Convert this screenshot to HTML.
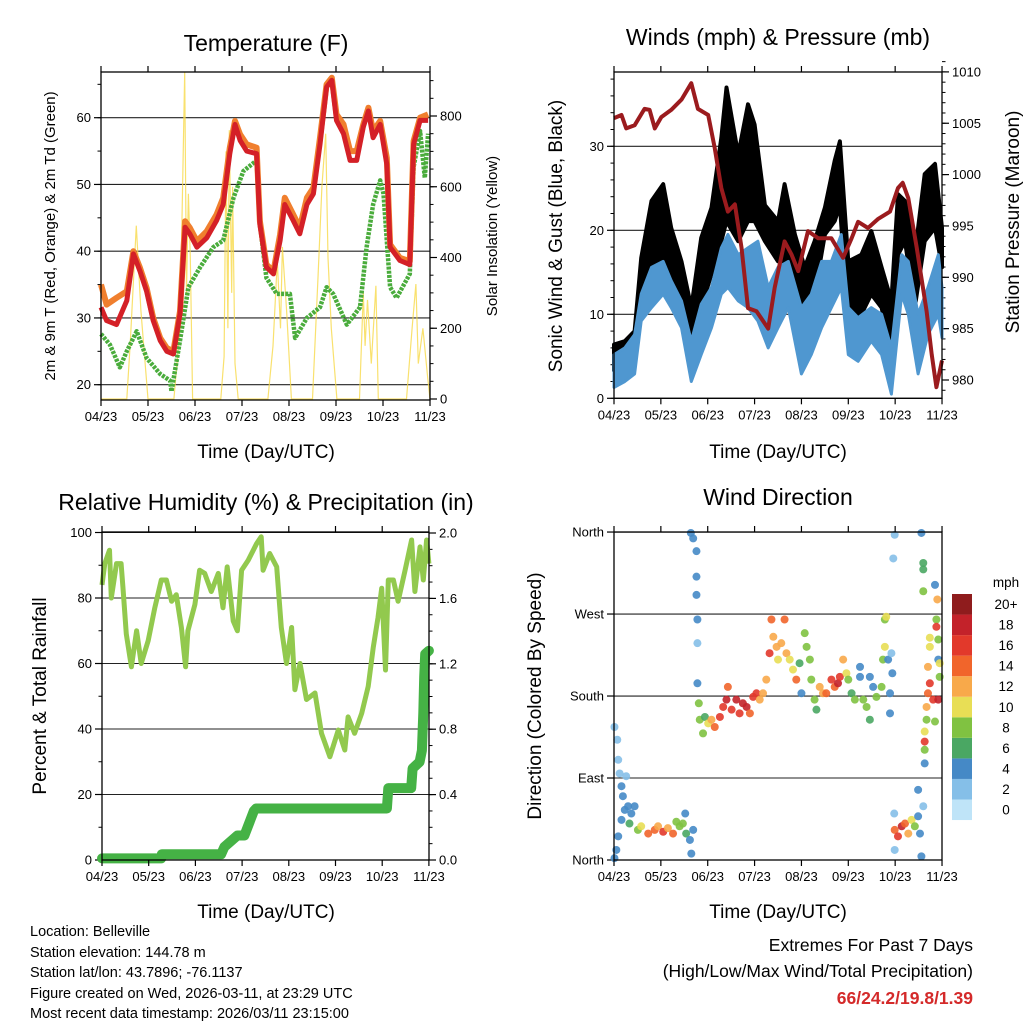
<!DOCTYPE html>
<html><head><meta charset="utf-8"><title>Station Meteogram</title>
<style>
html,body{margin:0;padding:0;background:#fff;}
svg{display:block;font-family:"Liberation Sans",Arial,sans-serif;}
</style></head>
<body>
<svg id="chart" width="1024" height="1024" viewBox="0 0 1024 1024" xmlns="http://www.w3.org/2000/svg">
<rect x="0" y="0" width="1024" height="1024" fill="#fff"/>
<text x="266" y="51" font-size="23" text-anchor="middle">Temperature (F)</text>
<text x="778" y="45" font-size="23" text-anchor="middle">Winds (mph) &amp; Pressure (mb)</text>
<text x="266" y="510" font-size="23" text-anchor="middle">Relative Humidity (%) &amp; Precipitation (in)</text>
<text x="778" y="505" font-size="23" text-anchor="middle">Wind Direction</text>
<text x="266" y="458" font-size="19" text-anchor="middle">Time (Day/UTC)</text>
<text x="778" y="458" font-size="19" text-anchor="middle">Time (Day/UTC)</text>
<text x="266" y="918" font-size="19" text-anchor="middle">Time (Day/UTC)</text>
<text x="778" y="918" font-size="19" text-anchor="middle">Time (Day/UTC)</text>
<text transform="translate(55,236) rotate(-90)" font-size="15" text-anchor="middle">2m &amp; 9m T (Red, Orange) &amp; 2m Td (Green)</text>
<text transform="translate(497,236) rotate(-90)" font-size="15" text-anchor="middle">Solar Insolation (Yellow)</text>
<text transform="translate(562,236) rotate(-90)" font-size="19" text-anchor="middle">Sonic Wind &amp; Gust (Blue, Black)</text>
<text transform="translate(1019,222) rotate(-90)" font-size="19" text-anchor="middle">Station Pressure (Maroon)</text>
<text transform="translate(46,696) rotate(-90)" font-size="19" text-anchor="middle">Percent &amp; Total Rainfall</text>
<text transform="translate(541,696) rotate(-90)" font-size="19" text-anchor="middle">Direction (Colored By Speed)</text>
<g font-size="14.5">
<text x="30" y="936">Location: Belleville</text>
<text x="30" y="957">Station elevation: 144.78 m</text>
<text x="30" y="977">Station lat/lon: 43.7896; -76.1137</text>
<text x="30" y="998">Figure created on Wed, 2026-03-11, at 23:29 UTC</text>
<text x="30" y="1018">Most recent data timestamp: 2026/03/11 23:15:00</text>
</g>
<g font-size="17.5" text-anchor="end">
<text x="973" y="951">Extremes For Past 7 Days</text>
<text x="973" y="977">(High/Low/Max Wind/Total Precipitation)</text>
<text x="973" y="1004" fill="#d42a2a" font-weight="bold">66/24.2/19.8/1.39</text>
</g>
</svg>
<script>
// ---------- data ----------
const dayLabels=['04/23','05/23','06/23','07/23','08/23','09/23','10/23','11/23'];
// Temperature panel
const tempTimes=[0,0.12,0.33,0.55,0.69,0.83,0.97,1.11,1.26,1.40,1.54,1.68,1.79,1.89,2.04,2.25,2.46,2.60,2.74,2.85,2.96,3.10,3.31,3.38,3.52,3.67,3.81,3.91,4.09,4.23,4.38,4.52,4.66,4.80,4.91,5.01,5.16,5.30,5.44,5.58,5.69,5.79,5.94,6.08,6.15,6.36,6.57,6.65,6.79,6.96];
const temp2m=[31.6,29.6,29,32.6,39.6,37,34,29.6,26.6,25,24.6,30.6,43.6,42.6,40.6,42,44.6,47,54.6,59,56.6,55,54.6,44,37.6,36.6,41.6,47,44.6,42.6,47,48.6,56,64.6,65.6,59.6,57.6,53.6,53.6,58.6,61,57,59,53,40.6,38.6,38,56,59.6,59.6];
const temp9m=[35,32,33,34,40,37.5,34.5,30,27,25.5,25,31,44.5,43.5,41.5,43,45.5,48,55.5,59.5,57.5,56,55.5,44.5,38,37,42.5,48,45.5,43.5,48,49.5,57,65,66,60.5,59,55,55,59,61.5,58,59.5,54,41,39,38.5,56.5,60,60.5];
const dewTimes=[0,0.19,0.40,0.55,0.76,0.97,1.26,1.47,1.50,1.68,1.86,2.11,2.39,2.60,2.82,3.03,3.31,3.38,3.52,3.74,4.02,4.13,4.38,4.66,4.80,4.94,5.23,5.51,5.65,5.79,5.94,6.01,6.15,6.29,6.57,6.65,6.79,6.89,6.96];
const dewPoint=[27.6,26,22.6,25,28,24,21.6,20.6,19,26.6,34.6,37.6,40.6,41.6,48,52,53.6,44,36,33.6,33.6,27,30,31.6,34.6,33.6,29,31.6,40.6,47,50.6,48.6,34.6,33,36.6,52.6,58,51,57.6];
const solarTimes=[0,0.55,0.62,0.75,0.85,1.0,1.55,1.68,1.78,1.82,1.86,1.90,1.95,2.55,2.62,2.66,2.70,2.73,2.78,2.80,2.85,2.92,3.55,3.66,3.75,3.82,3.86,3.95,4.05,4.5,4.62,4.7,4.78,4.83,4.9,5.02,5.5,5.58,5.62,5.67,5.75,5.85,5.9,6.5,6.62,6.7,6.75,6.85,6.95,7.0];
const solarVals=[0,0,150,490,250,0,0,200,925,300,580,400,0,0,120,700,200,760,300,600,100,0,0,150,390,200,430,250,0,0,350,600,750,400,200,0,0,300,150,280,100,320,0,0,200,325,100,200,60,0];
// Wind panel
const presTimes=[0,0.16,0.26,0.44,0.65,0.76,0.87,1.01,1.22,1.44,1.65,1.79,2.01,2.15,2.29,2.43,2.58,2.72,2.86,3.04,3.29,3.43,3.64,3.79,3.93,4.14,4.36,4.64,4.89,5.07,5.21,5.42,5.64,5.89,6.06,6.16,6.28,6.46,6.67,6.78,6.88,7.0];
const presVals=[1005.5,1005.8,1004.5,1004.8,1006.4,1006.3,1004.5,1005.6,1006.3,1007.3,1008.9,1006.4,1005.8,1002.6,998.7,996.4,997.1,992.9,987.0,986.7,985.0,989.0,993.5,992.2,990.6,994.5,993.8,993.8,991.9,993.8,995.4,994.8,995.7,996.4,998.7,999.2,997.7,992.9,986.7,982.5,979.3,981.9];
const windTimes=[0,0.23,0.44,0.58,0.80,1.05,1.22,1.44,1.65,1.86,2.08,2.29,2.43,2.65,2.86,3.07,3.29,3.50,3.72,4.0,4.21,4.43,4.64,4.85,5.0,5.21,5.49,5.71,5.92,6.14,6.28,6.49,6.70,6.92,7.0];
const windLow=[1.3,2,2.9,9.2,10.8,12.4,10.8,8.4,2,5.2,8.4,12.4,13.2,11.6,10.8,9.2,6,8.4,10.8,2.9,5.2,8.4,10.8,13.2,5.2,4.4,6.8,5.2,0.5,12.4,10,2.9,7.6,10,7.2];
const windHigh=[5.2,6,7.6,12.4,15.6,16.3,14,11.6,6.8,11.2,13.2,17.9,19.5,17.1,17.9,18.7,13.2,15.6,16.3,10.8,12.4,16.3,16.3,19.5,10.8,9.6,10.8,10,6,17.1,16.3,10,13.2,17.1,13.2];
const gustTimes=[0,0.23,0.44,0.58,0.80,1.05,1.22,1.44,1.65,1.86,2.08,2.29,2.40,2.65,2.86,3.0,3.22,3.50,3.64,3.86,4.07,4.28,4.50,4.71,4.82,5.0,5.28,5.49,5.71,5.92,6.06,6.21,6.42,6.63,6.85,7.0];
const gustLow=[3.3,4.4,6,11.6,15.6,15.6,14,11.6,5.2,10.8,14.8,18.7,21.1,18.7,21.1,21.1,18.7,16.3,16.3,14.8,9.2,12.4,19.5,21.1,23,8.4,10,12.4,10.8,5.2,17.1,18.7,10.8,18.7,20.3,15.6];
const gustHigh=[6.4,6.8,8,16.7,23.5,25.5,20.3,16.3,10.8,19.1,22.7,31,37,29,35,32.6,23,21.1,25.5,19.5,15.6,18.7,22.7,28.3,30.6,16.3,17.1,19.9,15.6,11.6,24.3,23.5,17.1,26.7,27.9,20.3];
// RH panel
const rhTimes=[0,0.06,0.16,0.2,0.31,0.41,0.45,0.52,0.63,0.74,0.84,0.99,1.13,1.27,1.38,1.49,1.59,1.7,1.79,1.84,1.99,2.09,2.2,2.34,2.49,2.59,2.68,2.81,2.9,2.99,3.13,3.31,3.41,3.45,3.59,3.74,3.84,3.95,4.06,4.13,4.24,4.38,4.56,4.7,4.88,5.06,5.2,5.27,5.41,5.56,5.7,5.81,5.91,5.99,6.07,6.13,6.24,6.34,6.49,6.63,6.7,6.81,6.88,6.95,7.0];
const rhVals=[84,90.5,94.6,80,90.5,90.5,83,69,59,70,60,67,77,85.5,85.5,79,81,71,59,70,78,88.5,87.5,82,87.5,77,89.5,73,70,88.5,91.5,96.6,98.7,88.5,93.6,89.5,71,60,71,52,60,49,51,38.7,31.5,39.7,33.6,43.7,38.7,44.8,53,65,74,83,58,85.5,85.5,79,88.5,97.7,82,95.6,85.5,97.7,90.5];
const precipTimes=[0,1.27,1.28,2.55,2.62,2.9,3.05,3.25,3.3,6.1,6.13,6.62,6.65,6.8,6.85,6.88,6.9,6.92,7.0];
const precipVals=[0.01,0.01,0.035,0.035,0.08,0.15,0.15,0.3,0.315,0.315,0.44,0.44,0.56,0.6,0.67,0.9,1.12,1.26,1.28];
// Wind direction panel
const dirTimes=[0.01,0.01,0.07,0.09,0.12,0.16,0.19,0.23,0.30,0.37,0.44,0.16,0.09,0.05,0.26,0.33,0.51,0.58,0.73,0.87,0.94,1.05,1.15,1.26,1.33,1.40,1.47,1.54,1.62,1.65,1.69,1.52,1.64,1.69,1.76,1.76,1.76,1.78,1.78,1.78,1.81,1.83,1.90,1.94,2.01,2.08,2.15,2.26,2.33,2.40,2.43,2.51,2.61,2.68,2.75,2.83,2.90,2.97,3.04,3.11,3.18,3.25,3.32,3.36,3.40,3.47,3.50,3.57,3.64,3.68,3.75,3.82,3.89,3.96,4.00,4.07,4.11,4.18,4.21,4.28,4.32,4.39,4.46,4.53,4.64,4.71,4.78,4.82,4.89,4.96,5.00,5.07,5.14,5.25,5.25,5.32,5.39,5.46,5.46,5.53,5.60,5.71,5.74,5.78,5.78,5.81,5.85,5.89,5.89,5.92,5.94,5.96,5.99,5.99,6.06,6.14,6.21,6.28,6.35,6.42,6.49,6.53,6.56,6.49,6.60,5.98,5.99,6.56,6.60,6.60,6.60,6.63,6.63,6.63,6.63,6.67,6.67,6.70,6.74,6.70,6.74,6.74,6.81,6.85,6.88,6.88,6.90,6.92,6.92,6.92,6.95,6.95,6.85];
const dirDeg=[2,146,132,110,95,81,70,55,59,51,59,44,26,11,92,40,33,37,29,33,37,31,35,29,42,37,40,29,22,7,33,51,359,353,339,311,291,264,238,194,172,154,139,157,150,154,146,157,168,176,190,165,176,161,172,168,161,179,183,176,183,198,227,264,245,234,220,238,264,227,220,209,198,216,183,249,234,220,198,176,165,190,183,183,198,190,194,201,220,205,198,183,176,212,201,176,168,201,154,190,179,190,220,234,264,267,220,183,161,227,205,331,357,33,26,37,40,29,44,37,48,29,4,77,59,51,11,359,326,319,295,106,121,130,141,154,168,183,194,212,234,244,176,302,264,256,286,242,220,176,201,216,152];
const dirSpeed=[3,2,2,2,2,4,4,4,4,4,4,4,3,4,2,6,8,10,14,14,12,16,12,14,7,8,7,6,4,4,4,4,3,3,3,3,3,4,2,3,7,7,8,6,10,12,14,16,16,18,14,16,18,16,18,18,14,16,16,12,12,12,16,14,12,12,10,12,14,12,10,10,14,6,4,8,8,7,7,7,6,12,12,14,16,14,18,16,12,10,8,6,7,4,4,8,7,4,6,4,7,8,7,10,8,10,3,4,4,2,4,1,2,14,16,18,14,12,10,7,4,4,3,3,2,1,2,3,6,6,7,4,8,16,10,7,12,14,16,12,10,10,16,4,7,16,12,8,4,18,8,10,7];
const speedLabels=['0','2','4','6','8','10','12','14','16','18','20+'];
const speedColors=['#bfe4f8','#85bfe8','#4589c6','#4aa763','#80c241','#e8de55','#f8a94a','#f1652b','#e2392b','#c3222a','#8f1c1d'];

// ---------- helpers ----------
const NS='http://www.w3.org/2000/svg';
const svg=document.getElementById('chart');
function mk(tag,attrs,parent){const e=document.createElementNS(NS,tag);for(const k in attrs)e.setAttribute(k,attrs[k]);(parent||svg).appendChild(e);return e;}
function linePath(ts,vs,xs,ys){return ts.map((t,i)=>(i?'L':'M')+xs(t).toFixed(1)+','+ys(vs[i]).toFixed(1)).join('');}
function bandPath(ts,lo,hi,xs,ys){let d=ts.map((t,i)=>(i?'L':'M')+xs(t).toFixed(1)+','+ys(hi[i]).toFixed(1)).join('');for(let i=ts.length-1;i>=0;i--)d+='L'+xs(ts[i]).toFixed(1)+','+ys(lo[i]).toFixed(1);return d+'Z';}
function xAxis(g,xs,yTop,yBot){
  for(let i=0;i<dayLabels.length;i++){
    const x=xs(i);
    const tb=mk('line',{x1:x,x2:x,y1:yBot,y2:yBot+6,stroke:'#000','stroke-width':1.2},g);
    
    
    const tt=mk('line',{x1:x,x2:x,y1:yTop,y2:yTop-6,stroke:'#000','stroke-width':1.2},g);
    
    
    const lb=mk('text',{x:x,y:yBot+21,'font-size':13,'text-anchor':'middle'},g);
    
    
    lb.textContent=dayLabels[i];
  }
}
function yAxis(g,side,xEdge,ys,majors,labels,minors,grid,x0,x1){
  const s=side==='left'?-1:1;
  minors.forEach(v=>{
    const t=mk('line',{x1:xEdge,x2:xEdge+s*3.5,y1:ys(v),y2:ys(v),stroke:'#000','stroke-width':1},g);
    
    
  });
  majors.forEach((v,i)=>{
    const y=ys(v);
    if(grid){
      const gl=mk('line',{x1:x0,x2:x1,y1:y,y2:y,stroke:'#222','stroke-width':1.1},g);
      
      
    }
    const t=mk('line',{x1:xEdge,x2:xEdge+s*7,y1:y,y2:y,stroke:'#000','stroke-width':1.2},g);
    
    
    const lb=mk('text',{x:xEdge+s*10,y:y+4.5,'font-size':13,'text-anchor':side==='left'?'end':'start'},g);
    
    
    lb.textContent=labels[i];
  });
}
function frame(g,x0,x1,y0,y1){
  const r=mk('rect',{x:x0,y:y0,width:x1-x0,height:y1-y0,fill:'none',stroke:'#000','stroke-width':1.3},g);
  
  
}
function range(a,b,s){const r=[];for(let v=a;v<=b+1e-9;v+=s)r.push(+v.toFixed(3));return r;}

// ---------- Panel 1: temperature ----------
(function(){
  const X0=101,X1=430,Y0=72,Y1=400;
  const xs=t=>X0+t*47;
  const yT=v=>117.7+(60-v)*6.675;
  const yS=v=>399-v*(283/800);
  const g=mk('g',{});
  
  
  yAxis(g,'left',X0,yT,[20,30,40,50,60],['20','30','40','50','60'],range(20,65,5),true,X0,X1);
  yAxis(g,'right',X1,yS,[0,200,400,600,800],['0','200','400','600','800'],range(0,900,50),false);
  const clip=mk('clipPath',{id:'c1'},g);mk('rect',{x:X0,y:Y0,width:X1-X0,height:Y1-Y0},clip);
  const sol=mk('path',{d:linePath(solarTimes,solarVals,xs,yS),fill:'none',stroke:'#f8d94a','stroke-width':1.2,opacity:0.8,'clip-path':'url(#c1)'},g);
  
  
  const dew=mk('path',{d:linePath(dewTimes,dewPoint,xs,yT),fill:'none',stroke:'#4aac3c','stroke-width':4.5,'stroke-dasharray':'3 1.2','stroke-linejoin':'round'},g);
  
  
  const t9=mk('path',{d:linePath(tempTimes,temp9m,xs,yT),fill:'none',stroke:'#f07f2e','stroke-width':6,'stroke-linejoin':'round'},g);
  
  
  const t2=mk('path',{d:linePath(tempTimes,temp2m,xs,yT),fill:'none',stroke:'#d42027','stroke-width':5,'stroke-linejoin':'round'},g);
  
  
  frame(g,X0,X1,Y0,Y1);
  xAxis(g,xs,Y0,Y1);
})();

// ---------- Panel 2: winds & pressure ----------
(function(){
  const X0=614,X1=942,Y0=72,Y1=398.3;
  const xs=t=>X0+t*46.86;
  const yW=v=>398.3-v*8.4;
  const yP=v=>380-(v-980)*10.27;
  const g=mk('g',{});
  
  
  yAxis(g,'left',X0,yW,[0,10,20,30],['0','10','20','30'],range(0,38,2),true,X0,X1);
  yAxis(g,'right',X1,yP,[980,985,990,995,1000,1005,1010],['980','985','990','995','1000','1005','1010'],range(979,1011,1),false);
  const gb=mk('path',{d:bandPath(gustTimes,gustLow,gustHigh,xs,yW),fill:'#000',stroke:'#000','stroke-width':4,'stroke-linejoin':'round'},g);
  
  
  const wb=mk('path',{d:bandPath(windTimes,windLow,windHigh,xs,yW),fill:'#4f97d0',stroke:'#4f97d0','stroke-width':3,'stroke-linejoin':'round'},g);
  
  
  const pl=mk('path',{d:linePath(presTimes,presVals,xs,yP),fill:'none',stroke:'#9b1b1e','stroke-width':4,'stroke-linejoin':'round'},g);
  
  
  frame(g,X0,X1,Y0,Y1);
  xAxis(g,xs,Y0,Y1);
})();

// ---------- Panel 3: RH & precip ----------
(function(){
  const X0=102,X1=429,Y0=532,Y1=860;
  const xs=t=>X0+t*46.7;
  const yR=v=>860-v*3.275;
  const yPr=v=>860-v*163.5;
  const g=mk('g',{});
  
  
  yAxis(g,'left',X0,yR,[0,20,40,60,80,100],['0','20','40','60','80','100'],range(0,100,10),true,X0,X1);
  yAxis(g,'right',X1,yPr,[0,0.4,0.8,1.2,1.6,2.0],['0.0','0.4','0.8','1.2','1.6','2.0'],range(0,2.0,0.1),false);
  const rh=mk('path',{d:linePath(rhTimes,rhVals,xs,yR),fill:'none',stroke:'#92c94e','stroke-width':5,'stroke-linejoin':'round'},g);
  
  
  const pr=mk('path',{d:linePath(precipTimes,precipVals,xs,yPr),fill:'none',stroke:'#45b245','stroke-width':10,'stroke-linejoin':'round','stroke-linecap':'round'},g);
  
  
  frame(g,X0,X1,Y0,Y1);
  xAxis(g,xs,Y0,Y1);
})();

// ---------- Panel 4: wind direction ----------
(function(){
  const X0=614,X1=942,Y0=532,Y1=860;
  const xs=t=>X0+t*46.86;
  const yD=v=>860-v*0.911;
  const g=mk('g',{});
  
  
  yAxis(g,'left',X0,yD,[0,90,180,270,360],['North','East','South','West','North'],[],true,X0,X1);
  dirTimes.forEach((t,i)=>{
    const idx=Math.max(0,Math.min(10,Math.round(dirSpeed[i]/2)));
    const c=mk('circle',{cx:xs(t),cy:yD(dirDeg[i]),r:4,fill:speedColors[idx],opacity:0.9},g);
    
    
  });
  frame(g,X0,X1,Y0,Y1);
  xAxis(g,xs,Y0,Y1);
  const lg=mk('g',{});
  
  
  const ttl=mk('text',{x:1006,y:587,'font-size':13.5,'text-anchor':'middle'},lg);
  
  
  ttl.textContent='mph';
  for(let k=0;k<speedLabels.length;k++){
    const y=594+(10-k)*20.55;
    const b=mk('rect',{x:952,y:y,width:20,height:20.55,fill:speedColors[k]},lg);
    
    
    const t=mk('text',{x:1006,y:y+15,'font-size':13.5,'text-anchor':'middle'},lg);
    
    
    t.textContent=speedLabels[k];
  }
})();
</script>
</body></html>
